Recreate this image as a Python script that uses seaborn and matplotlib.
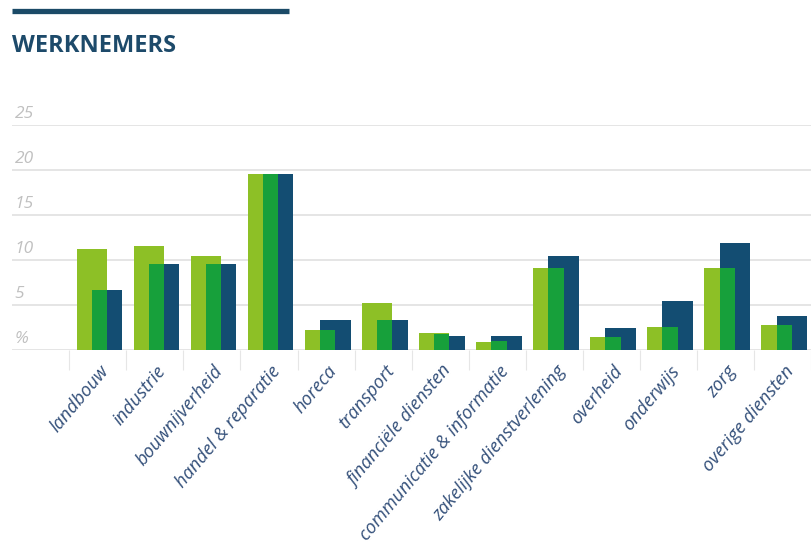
import numpy as np
import pandas as pd
import matplotlib
matplotlib.use("Agg")
import matplotlib.pyplot as plt
import matplotlib.transforms as mtransforms
from matplotlib.lines import Line2D
import seaborn as sns

categories = ["landbouw", "industrie", "bouwnijverheid", "handel & reparatie",
              "horeca", "transport", "financiële diensten",
              "communicatie & informatie", "zakelijke dienstverlening",
              "overheid", "onderwijs", "zorg", "overige diensten"]
series_a = [11.2, 11.6, 10.4, 19.5, 2.2, 5.2, 1.9, 0.9, 9.1, 1.5, 2.6, 9.1, 2.8]
series_b = [6.7, 9.6, 9.6, 19.5, 2.2, 3.3, 1.8, 1.0, 9.1, 1.5, 2.6, 9.1, 2.8]
series_c = [6.7, 9.6, 9.6, 19.5, 3.3, 3.3, 1.6, 1.6, 10.4, 2.5, 5.4, 11.9, 3.8]
y_ticks = [0, 5, 10, 15, 20, 25]
y_tick_labels = ["%", "5", "10", "15", "20", "25"]
title = "WERKNEMERS"

C_A = "#8dc026"
C_B = "#17a03b"
C_C = "#134d72"
TXT = "#34507a"

sns.set_theme(style="white")
plt.rcParams["font.family"] = ["Open Sans", "DejaVu Sans"]

W, H = 811, 547
fig = plt.figure(figsize=(W / 100, H / 100), dpi=100)
ax = fig.add_axes([12 / W, 197 / H, 799 / W, 225 / H])

pos = np.arange(len(categories), dtype=float)
t = 0.266
shift = 0.03
df = pd.DataFrame({"pos": pos, "a": series_a, "b": series_b, "c": series_c})

# draw order: light green (left two thirds), dark blue (right two thirds), green (middle third)
sns.barplot(data=df.assign(p=df["pos"] + shift - 0.5 * t), x="p", y="a", native_scale=True,
            width=2 * t, color=C_A, saturation=1, linewidth=0, errorbar=None, ax=ax)
sns.barplot(data=df.assign(p=df["pos"] + shift + 0.5 * t), x="p", y="c", native_scale=True,
            width=2 * t, color=C_C, saturation=1, linewidth=0, errorbar=None, ax=ax)
sns.barplot(data=df.assign(p=df["pos"] + shift), x="p", y="b", native_scale=True,
            width=t, color=C_B, saturation=1, linewidth=0, errorbar=None, ax=ax)

ax.set_xlim(-1.505, -1.505 + 799 / 57.7)
ax.set_ylim(0, 25)
ax.set_xlabel("")
ax.set_ylabel("")
for s in ax.spines.values():
    s.set_visible(False)

ax.set_yticks(y_ticks)
ax.set_yticklabels([])
ax.tick_params(axis="y", length=0)
ax.yaxis.grid(True, color="#e3e3e3", linewidth=1.3)
ax.xaxis.grid(False)
ax.set_axisbelow(True)

blend = mtransforms.blended_transform_factory(ax.transAxes, ax.transData)
for v, lab in zip(y_ticks, y_tick_labels):
    ax.annotate(lab, xy=(0, v), xycoords=blend, xytext=(2, 2.5), textcoords="offset points",
                ha="left", va="bottom", fontsize=12.5, fontstyle="italic", color="#c0c0c0",
                annotation_clip=False)

ax.set_xticks(pos)
ax.set_xticklabels(categories, rotation=50, ha="right", va="center",
                   rotation_mode="anchor", fontsize=13.2, fontstyle="italic", color=TXT)
ax.tick_params(axis="x", which="major", length=0, pad=13)
ax.set_xticks(np.arange(-0.5, len(categories) + 0.5, 1.0), minor=True)
ax.tick_params(axis="x", which="minor", length=14.5, width=0.8, color="#e6e6e6",
               direction="out", bottom=True)
off = mtransforms.ScaledTranslation(8 / 100, 0, fig.dpi_scale_trans)
for lbl in ax.get_xticklabels():
    lbl.set_transform(lbl.get_transform() + off)

fig.add_artist(Line2D([12 / W, 289 / W], [1 - 11 / H, 1 - 11 / H], lw=3.8, color="#1b4a67",
                      solid_capstyle="butt"))
fig.text(12 / W, 1 - 46 / H, title, fontsize=17, fontweight="bold", color="#1d4a6a",
         ha="left", va="center")

fig.savefig("out.png", dpi=100)
